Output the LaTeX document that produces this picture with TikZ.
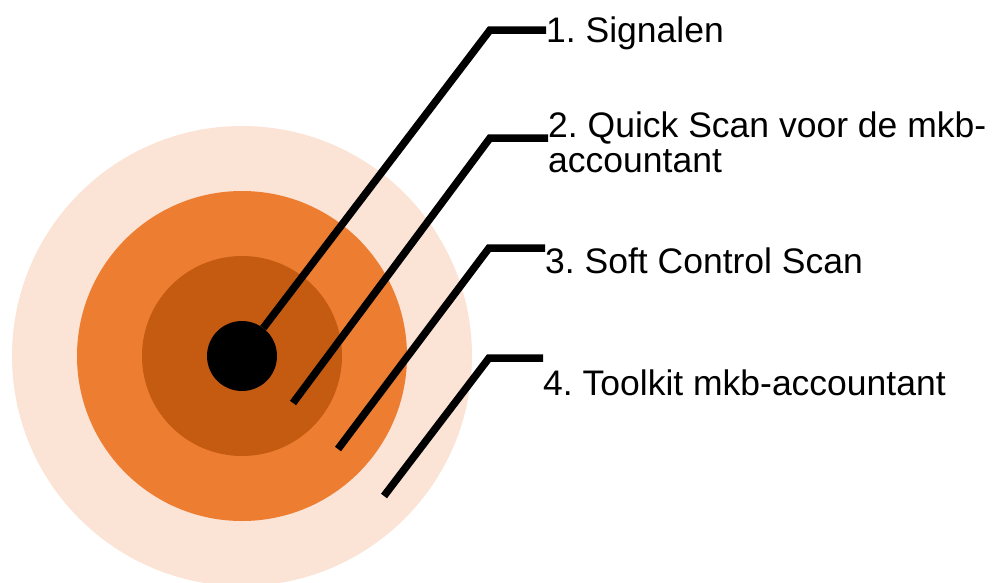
\documentclass[tikz,border=0pt]{standalone}
\usepackage{fontspec}
\setmainfont{Liberation Sans}
\frenchspacing
\usetikzlibrary{positioning}
\definecolor{ringpale}{HTML}{FBE3D6}
\definecolor{ringmid}{HTML}{ED7D31}
\definecolor{ringdark}{HTML}{C55A11}
\tikzstyle{ring} = [circle, draw=none, inner sep=0pt]
\tikzstyle{tagtext} = [inner sep=0pt, anchor=base west, align=left,
font=\fontsize{35.5}{35}\selectfont]
\tikzstyle{pointer} = [draw, line width=7.5pt]

\begin{document}
\begin{tikzpicture}[x=1pt, y=-1pt]
	\useasboundingbox (0,0) rectangle (1005,582);
	% Place rings
	\node [ring, fill=ringpale, minimum size=460pt] (r4) at (242,356) {};
	\node [ring, fill=ringmid, minimum size=330pt] (r3) at (242,356) {};
	\node [ring, fill=ringdark, minimum size=200pt] (r2) at (242,356) {};
	\node [ring, fill=black, minimum size=70pt] (core) at (242,356) {};
	
	% Place labels
	\node [tagtext] (l1) at (546,42) {1. Signalen};
	\node [tagtext] (l2) at (548,172) {2. Quick Scan voor de mkb-\\accountant};
	\node [tagtext] (l3) at (545,273) {3. Soft Control Scan};
	\node [tagtext] (l4) at (543,395) {4. Toolkit mkb-accountant};
	
	% Bends and free ends
	\coordinate (c1) at (490,30);
	\coordinate (c2) at (490,138);
	\coordinate (c3) at (489,248);
	\coordinate (c4) at (489,358);
	\coordinate (s2) at (293,403);
	\coordinate (s3) at (338,449);
	\coordinate (s4) at (384,496);
	
	\path [pointer] (core) -- (c1) -- (c1 -| l1.west);
	\path [pointer] (s2) -- (c2) -- (c2 -| l2.west);
	\path [pointer] (s3) -- (c3) -- (c3 -| l3.west);
	\path [pointer] (s4) -- (c4) -- (c4 -| l4.west);
	
\end{tikzpicture}
\end{document}
